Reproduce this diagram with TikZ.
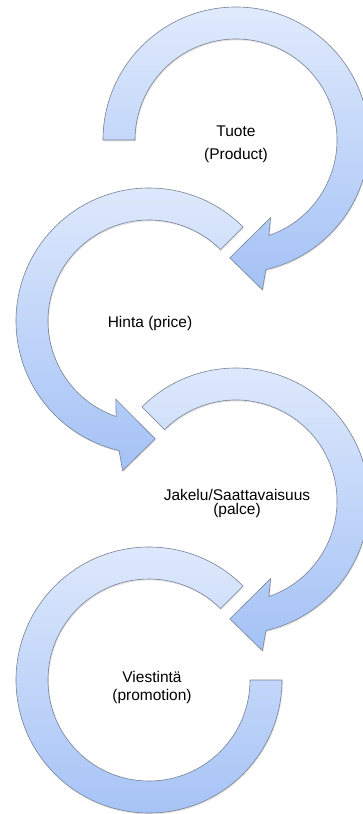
\documentclass[tikz,border=0pt]{standalone}
\usepackage{fontspec}
\setmainfont{Liberation Sans}
\usepackage{tikz}
\usetikzlibrary{shadows}
\definecolor{ringtop}{RGB}{224,234,252}
\definecolor{ringmid}{RGB}{205,221,250}
\definecolor{ringbot}{RGB}{164,194,246}
\definecolor{ringline}{RGB}{120,130,148}
\tikzset{
  ring/.style={draw=ringline, line width=0.6pt, top color=ringtop, middle color=ringmid, bottom color=ringbot,
    drop shadow={shadow xshift=0.8pt, shadow yshift=-1.4pt, opacity=0.22}},
  lbl/.style={font=\fontsize{15.5}{18}\selectfont, align=center, inner sep=0pt}
}

\begin{document}
\begin{tikzpicture}[x=1pt, y=1pt]
		%%%%% START %%%%%
		\useasboundingbox (0, 0) rectangle (363, -814);
		
		% Tuote: clockwise from the left, head at the bottom
		\begin{scope}[shift={(236, -140)}]
		\draw[ring] (180:133) arc[start angle=180, end angle=-77, radius=133]
		  -- (-80:152) -- (-93:118) -- (-66:85) -- (-71:101)
		  arc[start angle=-71, end angle=180, radius=101] -- cycle;
		\end{scope}
		
		% Hinta: counter-clockwise from upper right
		\begin{scope}[shift={(149, -321)}]
		\draw[ring] (45:133) arc[start angle=45, end angle=257, radius=133]
		  -- (260:152) -- (273:118) -- (247:85) -- (251:101)
		  arc[start angle=251, end angle=45, radius=101] -- cycle;
		\end{scope}
		
		% Jakelu: clockwise from upper left
		\begin{scope}[shift={(236, -501)}]
		\draw[ring] (135:133) arc[start angle=135, end angle=-77, radius=133]
		  -- (-80:152) -- (-93:118) -- (-66:85) -- (-71:101)
		  arc[start angle=-71, end angle=135, radius=101] -- cycle;
		\end{scope}
		
		% Viestinta: open ring, no head
		\begin{scope}[shift={(149, -680)}]
		\draw[ring] (45:133) arc[start angle=45, end angle=360, radius=133]
		  -- (0:101) arc[start angle=360, end angle=45, radius=101] -- cycle;
		\end{scope}
		
		\node[lbl] (tuote) at (236, -144.7) {Tuote\\[5pt](Product)};
		\node[lbl] (hinta) at (150, -323) {Hinta (price)};
		\node[lbl] (jakelu) at (237, -503) {Jakelu/Saattavaisuus\\[-4pt](palce)};
		\node[lbl] (viestinta) at (152, -687) {Viestintä\\(promotion)};
		
		%%%%% END %%%%%
	\end{tikzpicture}
\end{document}
